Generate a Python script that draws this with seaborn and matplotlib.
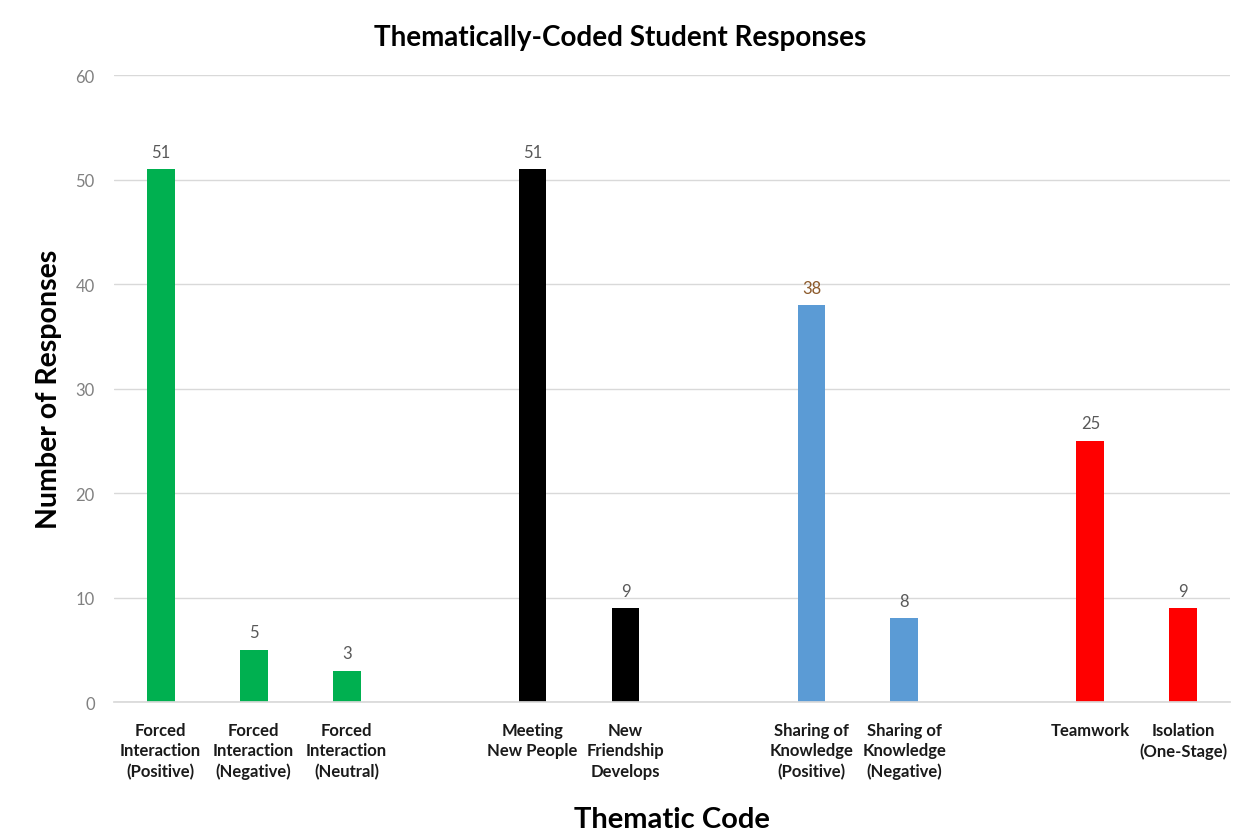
import matplotlib
matplotlib.use("Agg")
import matplotlib.pyplot as plt
import seaborn as sns
import pandas as pd

# Thematic codes, grouped by theme
codes = [
    "Forced\nInteraction\n(Positive)", "Forced\nInteraction\n(Negative)", "Forced\nInteraction\n(Neutral)",
    "Meeting\nNew People", "New\nFriendship\nDevelops",
    "Sharing of\nKnowledge\n(Positive)", "Sharing of\nKnowledge\n(Negative)",
    "Teamwork", "Isolation\n(One-Stage)",
]
counts = [51, 5, 3, 51, 9, 38, 8, 25, 9]
themes = ["Forced", "Forced", "Forced", "Meeting", "Meeting",
          "Sharing", "Sharing", "Team", "Team"]
theme_colors = {"Forced": "#00B050", "Meeting": "#000000",
                "Sharing": "#5B9BD5", "Team": "#FF0000"}
label_colors = ["#595959", "#595959", "#595959", "#595959", "#595959",
                "#8C5A2B", "#595959", "#595959", "#595959"]
y_ticks = [0, 10, 20, 30, 40, 50, 60]

df = pd.DataFrame({"code": codes, "count": counts, "theme": themes})

# Category order with an empty slot between themes
order = []
gap = 0
for i, c in enumerate(codes):
    if i > 0 and themes[i] != themes[i - 1]:
        order.append(" " * (gap + 1))
        gap += 1
    order.append(c)

sns.set_theme(style="white")
plt.rcParams["font.family"] = ["Lato", "DejaVu Sans"]

fig = plt.figure(figsize=(12.41, 8.37), dpi=100)
ax = fig.add_axes([0.092, 0.160, 0.899, 0.749])

palette = {c: theme_colors[t] for c, t in zip(codes, themes)}
sns.barplot(data=df, x="code", y="count", hue="code", order=order,
            palette=palette, width=0.3, legend=False, ax=ax,
            saturation=1, linewidth=0)

ax.set_ylim(0, 60)
ax.set_xlim(-0.5, len(order) - 0.5)
ax.set_yticks(y_ticks)
ax.set_yticklabels([str(v) for v in y_ticks], color="#808080", fontsize=12)
ax.yaxis.grid(True, color="#D9D9D9", linewidth=1)
ax.set_axisbelow(True)
for s in ["top", "right", "left"]:
    ax.spines[s].set_visible(False)
ax.spines["bottom"].set_color("#D9D9D9")
ax.tick_params(axis="y", length=0, pad=14)
ax.tick_params(axis="x", length=0, pad=14)

ax.set_xticks(range(len(order)))
ax.set_xticklabels([o if o.strip() else "" for o in order],
                   fontsize=12, fontweight="bold", color="#1A1A1A",
                   linespacing=1.35)

# Value labels above each bar
for c, v, col in zip(codes, counts, label_colors):
    xpos = order.index(c)
    ax.text(xpos, v + 0.9, str(v), ha="center", va="bottom",
            fontsize=12, color=col)

ax.set_ylabel("Number of Responses", fontsize=20.5, fontweight="bold",
              color="#000000", labelpad=10)
ax.set_xlabel("Thematic Code", fontsize=21, fontweight="bold",
              color="#000000", va="center")
ax.xaxis.set_label_coords(0.5, -0.187)
fig.text(0.5, 0.955, "Thematically-Coded Student Responses",
         ha="center", va="center", fontsize=20, fontweight="bold",
         color="#000000")

fig.savefig("out.png", dpi=100)
